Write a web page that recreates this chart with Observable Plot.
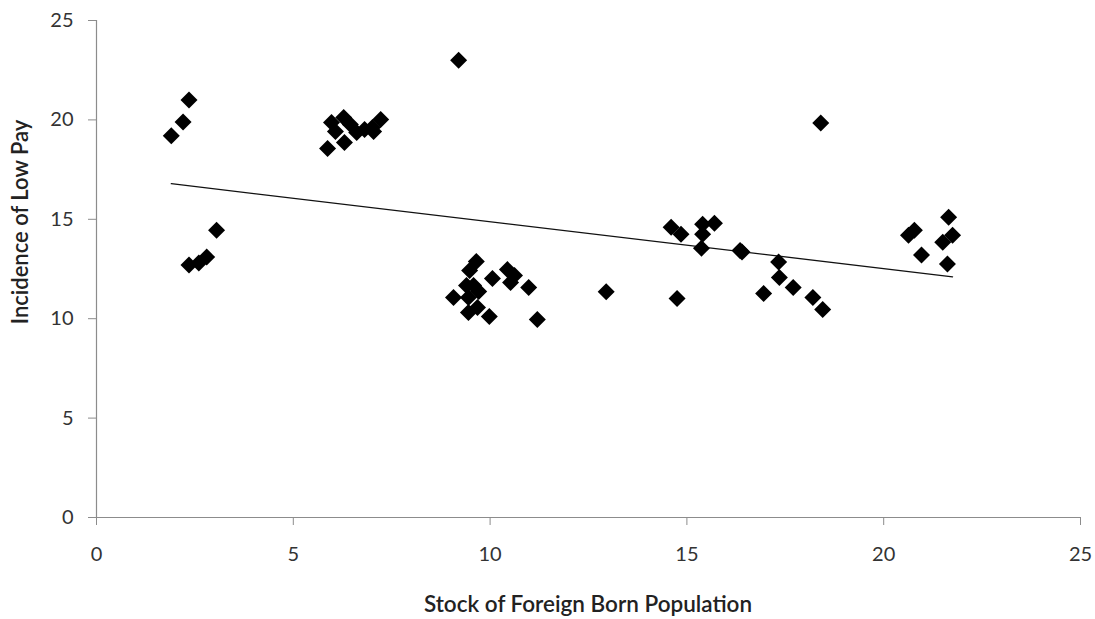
<!DOCTYPE html>
<html>
<head>
<meta charset="utf-8">
<script src="https://cdn.jsdelivr.net/npm/d3@7"></script>
<script src="https://cdn.jsdelivr.net/npm/@observablehq/plot@0.6"></script>
<style>
  html, body { margin: 0; padding: 0; background: #fff; }
  #chart { width: 1095px; height: 619px; }
</style>
</head>
<body>
<div id="chart"></div>
<script>
// Stock of foreign born population (x) vs incidence of low pay (y)
const foreignBorn = [
  1.9, 2.2, 2.35, 3.05, 2.8, 2.6, 2.35,
  5.87, 5.97, 6.07, 6.28, 6.3, 6.45, 6.61, 6.81, 7.01, 7.04, 7.22,
  9.2, 9.65, 9.48, 10.06, 10.44, 10.62, 10.52, 10.98, 9.4, 9.58, 9.71, 9.07, 9.45, 9.68, 9.45, 9.98, 11.2,
  12.95,
  18.4, 14.6, 14.85, 15.4, 15.7, 15.4, 15.37, 16.4, 16.35, 14.75, 17.33, 17.35, 17.7, 16.95, 18.2, 18.45,
  20.63, 20.78, 20.96, 21.65, 21.75, 21.5, 21.62
];
const lowPay = [
  19.2, 19.9, 21.0, 14.45, 13.1, 12.8, 12.7,
  18.56, 19.87, 19.42, 20.12, 18.86, 19.77, 19.37, 19.52, 19.62, 19.42, 20.02,
  23.0, 12.88, 12.42, 12.02, 12.47, 12.17, 11.82, 11.57, 11.67, 11.67, 11.37, 11.07, 11.07, 10.56, 10.31, 10.11, 9.96,
  11.35,
  19.85, 14.6, 14.25, 14.75, 14.8, 14.25, 13.55, 13.35, 13.43, 11.02, 12.85, 12.07, 11.57, 11.27, 11.07, 10.46,
  14.2, 14.45, 13.2, 15.1, 14.2, 13.85, 12.75
];
const xTicks = [0, 5, 10, 15, 20, 25];
const yTicks = [0, 5, 10, 15, 20, 25];
const xTitle = "Stock of Foreign Born Population";
const yTitle = "Incidence of Low Pay";

const data = foreignBorn.map((x, i) => ({x, y: lowPay[i]}));

const diamond = {
  draw(context, size) {
    const h = Math.sqrt(size / Math.PI);
    context.moveTo(0, -h);
    context.lineTo(h, 0);
    context.lineTo(0, h);
    context.lineTo(-h, 0);
    context.closePath();
  }
};

const chart = Plot.plot({
  width: 1095,
  height: 619,
  marginLeft: 96,
  marginRight: 15,
  marginTop: 20,
  marginBottom: 102,
  style: {fontFamily: "Lato, 'Open Sans', sans-serif", background: "#fff"},
  x: {domain: [0, 25]},
  y: {domain: [0, 25]},
  marks: [
    Plot.ruleY([0], {stroke: "#8c8c8c", strokeWidth: 1.2}),
    Plot.ruleX([0], {stroke: "#8c8c8c", strokeWidth: 1.2}),
    Plot.axisX({
      ticks: xTicks, tickSize: 8, tickPadding: 21, stroke: "#8c8c8c",
      fontSize: 20, fill: "#333", label: null
    }),
    Plot.axisY({
      ticks: yTicks, tickSize: 8, tickPadding: 15, stroke: "#8c8c8c",
      fontSize: 20, fill: "#333", label: null
    }),
    Plot.linearRegressionY(data, {x: "x", y: "y", ci: 0, stroke: "#111", strokeWidth: 1.3}),
    Plot.dot(data, {x: "x", y: "y", symbol: diamond, r: 8.5, fill: "#000", stroke: "none"})
  ]
});

const svg = d3.select(chart);
svg.append("text")
  .attr("x", 588).attr("y", 612)
  .attr("text-anchor", "middle")
  .attr("font-family", "Lato, 'Open Sans', sans-serif")
  .attr("font-size", 22.5).attr("font-weight", 600).attr("fill", "#222")
  .text(xTitle);
svg.append("text")
  .attr("transform", "translate(28,222) rotate(-90)")
  .attr("text-anchor", "middle")
  .attr("font-family", "Lato, 'Open Sans', sans-serif")
  .attr("font-size", 22).attr("font-weight", 600).attr("fill", "#222")
  .text(yTitle);

document.getElementById("chart").appendChild(chart);
</script>
</body>
</html>
